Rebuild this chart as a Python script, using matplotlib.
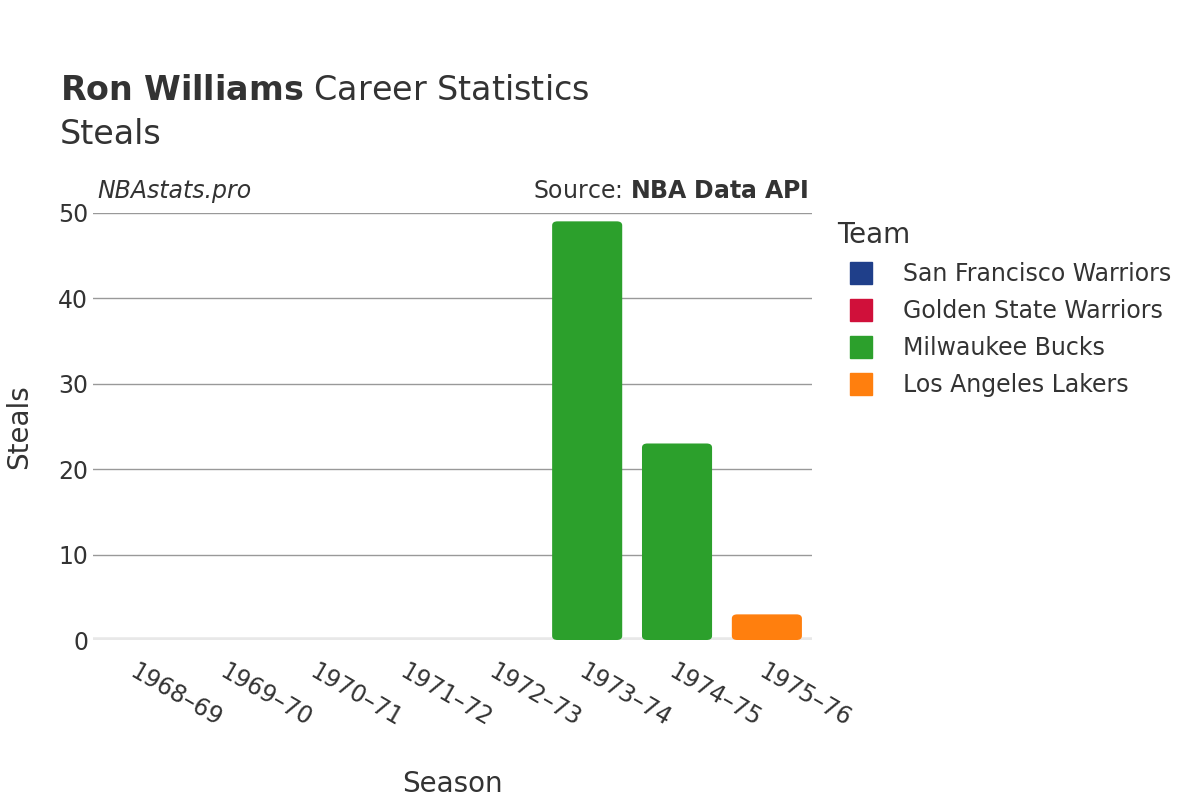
import matplotlib
matplotlib.use("Agg")
import matplotlib.pyplot as plt
from matplotlib.patches import FancyBboxPatch
from matplotlib.lines import Line2D

seasons = ["1968–69", "1969–70", "1970–71", "1971–72", "1972–73", "1973–74", "1974–75", "1975–76"]
teams = ["San Francisco Warriors", "Golden State Warriors", "Milwaukee Bucks", "Los Angeles Lakers"]
colors = ["#1f3f8a", "#d0103a", "#2ca02c", "#ff7f0e"]
bar_team = ["San Francisco Warriors", "San Francisco Warriors", "San Francisco Warriors",
            "Golden State Warriors", "Golden State Warriors", "Milwaukee Bucks", "Milwaukee Bucks", "Los Angeles Lakers"]
steals = [0, 0, 0, 0, 0, 49, 23, 3]

plt.rcParams["font.family"] = "DejaVu Sans"
fig = plt.figure(figsize=(12, 8), dpi=100)
ax = fig.add_axes([0.0775, 0.2, 0.599, 0.534])
x = list(range(len(seasons)))
ax.set_xlim(-0.5, len(seasons) - 0.5)
ax.set_ylim(0, 50)
w = 0.78
for i, (v, t) in enumerate(zip(steals, bar_team)):
    if v <= 0:
        continue
    c = colors[teams.index(t)]
    p = FancyBboxPatch((i - w / 2, 0), w, v, boxstyle="round,pad=0,rounding_size=0.06",
                       mutation_aspect=8, fc=c, ec="none", zorder=3)
    ax.add_patch(p)
ax.set_yticks([0, 10, 20, 30, 40, 50])
ax.grid(axis="y", color="#999999", linewidth=1, zorder=0)
ax.axhline(0, color="#e8e8e8", linewidth=4, zorder=2)
for s in ax.spines.values():
    s.set_visible(False)
ax.tick_params(length=0, labelsize=17, colors="#333333")
ax.set_xticks(x)
ax.set_xticklabels(seasons, rotation=-30, ha="left", rotation_mode="anchor")
ax.tick_params(axis="x", pad=14)
ax.set_xlabel("Season", fontsize=20, color="#333333", labelpad=28)
ax.set_ylabel("Steals", fontsize=20, color="#333333", labelpad=18)

fig.text(0.05, 0.875, r"$\bf{Ron\ Williams}$ Career Statistics", fontsize=24, color="#333333")
fig.text(0.05, 0.82, "Steals", fontsize=24, color="#333333")
fig.text(0.081, 0.752, "NBAstats.pro", fontsize=17, style="italic", color="#333333")
fig.text(0.674, 0.752, r"Source: $\bf{NBA\ Data\ API}$", fontsize=17, color="#333333", ha="right")

handles = [Line2D([], [], marker="s", linestyle="none", markersize=16, color=c) for c in colors]
leg = fig.legend(handles, teams, loc="upper left", bbox_to_anchor=(0.68, 0.75), frameon=False,
                 fontsize=17, title="Team", title_fontsize=20, labelcolor="#333333",
                 handletextpad=0.8, labelspacing=0.55, alignment="left")
leg.get_title().set_color("#333333")
fig.savefig("out.png", dpi=100)
